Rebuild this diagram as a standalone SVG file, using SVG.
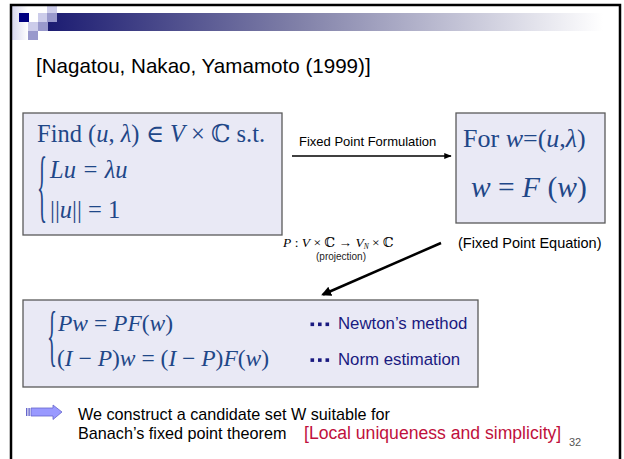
<svg xmlns="http://www.w3.org/2000/svg" width="624" height="459" viewBox="0 0 624 459">
  <defs>
    <linearGradient id="barGrad" x1="0" y1="0" x2="1" y2="0">
      <stop offset="0" stop-color="#1c1c72"/>
      <stop offset="0.45" stop-color="#8080a8"/>
      <stop offset="1" stop-color="#ffffff"/>
    </linearGradient>
    <linearGradient id="stripGrad" x1="0" y1="0" x2="1" y2="0">
      <stop offset="0" stop-color="#d6d6ee"/>
      <stop offset="1" stop-color="#ffffff"/>
    </linearGradient>
    <marker id="ah" viewBox="0 0 10 10" refX="9" refY="5" markerWidth="5" markerHeight="5" orient="auto">
      <path d="M0,1 L10,5 L0,9 z" fill="#000"/>
    </marker>
    <marker id="ah2" viewBox="0 0 10 10" refX="8" refY="5" markerWidth="4" markerHeight="4" orient="auto">
      <path d="M0,0 L10,5 L0,10 z" fill="#000"/>
    </marker>
  </defs>
  <style>
    .box { fill: #e9e9f5; stroke: #5a5a5a; stroke-width: 1.3; }
    .math { font-family: "Liberation Serif", "DejaVu Serif", serif; fill: #1f4788; }
    .it { font-style: italic; }
    .sans { font-family: "Liberation Sans", Arial, sans-serif; }
    .navy { fill: #1a1a80; }
    .dot { fill: #1a1a80; }
  </style>

  <rect width="624" height="459" fill="#ffffff"/>

  <g id="header">
    <rect x="12" y="6" width="16" height="34" fill="url(#stripGrad)"/>
    <rect x="48" y="13" width="555" height="18" fill="url(#barGrad)"/>
    <rect x="19" y="13" width="10" height="9" fill="#000080"/>
    <rect x="47" y="6" width="10" height="7" fill="#ccccea"/>
    <rect x="38" y="13" width="9" height="9" fill="#ccccea"/>
    <rect x="47" y="13" width="10" height="9" fill="#9999cc"/>
    <rect x="28" y="22" width="10" height="9" fill="#ccccea"/>
    <rect x="38" y="22" width="10" height="9" fill="#9999cc"/>
    <rect x="28" y="31" width="10" height="9" fill="#9999cc"/>
    <path d="M11,459 V5 H620 V459" fill="none" stroke="#000" stroke-width="2.5"/>
  </g>

  <text id="title" class="sans" x="36" y="73" font-size="20.6" fill="#000">[Nagatou, Nakao, Yamamoto (1999)]</text>

  <g id="problem">
    <rect class="box" x="23" y="113" width="259" height="122"/>
    <text class="math" x="37" y="142" font-size="24.5">Find (<tspan class="it">u</tspan>, <tspan class="it">λ</tspan>) ∈ <tspan class="it">V</tspan> × ℂ s.t.</text>
    <text class="math" font-size="26" transform="translate(37,211.8) scale(0.8,3.1)">{</text>
    <text class="math it" x="50" y="178" font-size="24.5">Lu = λu</text>
    <text class="math" x="50" y="218" font-size="24.5">||<tspan class="it">u</tspan>|| = 1</text>
  </g>

  <g id="fixedpoint">
    <rect class="box" x="456" y="113" width="149" height="110"/>
    <text class="math" x="463" y="147" font-size="26">For <tspan class="it">w</tspan>=(<tspan class="it">u</tspan>,<tspan class="it">λ</tspan>)</text>
    <text class="math" x="471" y="197" font-size="29.5"><tspan class="it">w</tspan> = <tspan class="it">F</tspan> (<tspan class="it">w</tspan>)</text>
  </g>
  <text id="fpe-label" class="sans" x="458" y="248" font-size="14.5" fill="#000">(Fixed Point Equation)</text>

  <g id="split">
    <rect class="box" x="23" y="300" width="455" height="87"/>
    <text class="math" font-size="26" transform="translate(47,358.3) scale(0.8,2.62)">{</text>
    <text class="math" x="58" y="331" font-size="23.5"><tspan class="it">Pw</tspan> = <tspan class="it">PF</tspan>(<tspan class="it">w</tspan>)</text>
    <text class="math" x="57" y="366" font-size="23.5">(<tspan class="it">I</tspan> − <tspan class="it">P</tspan>)<tspan class="it">w</tspan> = (<tspan class="it">I</tspan> − <tspan class="it">P</tspan>)<tspan class="it">F</tspan>(<tspan class="it">w</tspan>)</text>
    <rect class="dot" x="310.5" y="322.5" width="3.6" height="3.6"/>
    <rect class="dot" x="318" y="322.5" width="3.6" height="3.6"/>
    <rect class="dot" x="325.5" y="322.5" width="3.6" height="3.6"/>
    <text class="sans navy" x="338" y="329" font-size="16.8">Newton’s method</text>
    <rect class="dot" x="310.5" y="358.3" width="3.6" height="3.6"/>
    <rect class="dot" x="318" y="358.3" width="3.6" height="3.6"/>
    <rect class="dot" x="325.5" y="358.3" width="3.6" height="3.6"/>
    <text class="sans navy" x="338" y="365" font-size="16.8">Norm estimation</text>
  </g>

  <g id="connectors">
    <line x1="292" y1="156" x2="451" y2="156" stroke="#000" stroke-width="1.5" marker-end="url(#ah)"/>
    <text class="sans" x="299" y="146" font-size="13" fill="#000">Fixed Point Formulation</text>
    <line x1="441" y1="243" x2="323" y2="294.5" stroke="#000" stroke-width="2.5" marker-end="url(#ah2)"/>
    <text x="283" y="246.5" font-size="13.5" font-family="Liberation Serif, DejaVu Serif, serif" fill="#000"><tspan font-style="italic">P</tspan> : <tspan font-style="italic">V</tspan> × ℂ → <tspan font-style="italic">V</tspan><tspan font-size="7.5" font-style="italic" dy="2">N</tspan><tspan dy="-2"> × ℂ</tspan></text>
    <text class="sans" x="341" y="260" font-size="10" text-anchor="middle" fill="#222">(projection)</text>
  </g>

  <g id="conclusion">
    <rect x="26" y="408" width="1.4" height="8" fill="#6666cc"/>
    <rect x="28.4" y="408" width="1.4" height="8" fill="#6666cc"/>
    <polygon points="31,408 53,408 53,405 62,412 53,419.5 53,416 31,416" fill="#9999ff" stroke="#6666cc" stroke-width="0.8"/>
    <text class="sans" x="78" y="420" font-size="16.2" fill="#000">We construct a candidate set W suitable for</text>
    <text class="sans" x="78" y="439" font-size="16.2" fill="#000">Banach’s fixed point theorem</text>
    <text class="sans" x="304" y="439" font-size="17.6" fill="#c0103c">[Local uniqueness and simplicity]</text>
  </g>
  <text id="page" class="sans" x="569" y="446" font-size="11" fill="#555">32</text>
</svg>
